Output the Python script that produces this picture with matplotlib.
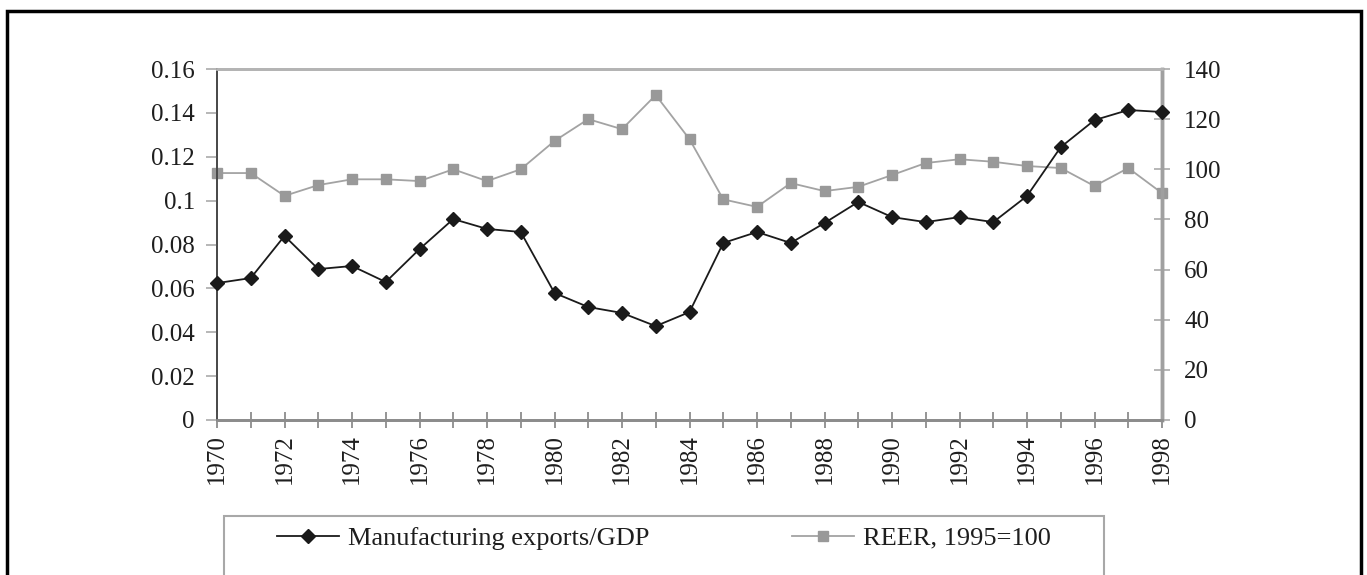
import numpy as np
import matplotlib.pyplot as plt
from matplotlib.patches import Rectangle
from matplotlib.lines import Line2D

plt.rcParams['font.family'] = ['Liberation Serif', 'DejaVu Serif']

years = list(range(1970, 1999))
mfg_exports_gdp = [0.0624, 0.0647, 0.0839, 0.0688, 0.0702, 0.0629, 0.0779, 0.0916,
                   0.0871, 0.0857, 0.0579, 0.0515, 0.0488, 0.0428, 0.0492, 0.0807,
                   0.0857, 0.0807, 0.0898, 0.0994, 0.0925, 0.0902, 0.0925, 0.0902,
                   0.1021, 0.1244, 0.1367, 0.1413, 0.1404]
reer = [98.5, 98.5, 89.4, 93.7, 96.0, 96.0, 95.3, 100.0, 95.3, 100.0, 111.3,
        120.0, 116.0, 129.6, 112.0, 88.0, 85.0, 94.5, 91.3, 93.0, 97.7, 102.5,
        104.0, 103.0, 101.3, 100.5, 93.3, 100.5, 90.5]
left_ticks = [0, 0.02, 0.04, 0.06, 0.08, 0.1, 0.12, 0.14, 0.16]
right_ticks = [0, 20, 40, 60, 80, 100, 120, 140]

W, H = 1367, 575
fig = plt.figure(figsize=(W / 100, H / 100), dpi=100)
ax = fig.add_axes([217 / W, 1 - 420 / H, (1162 - 217) / W, (420 - 69) / H])
ax2 = ax.twinx()

txt = '#1e1e1e'
fs = 18
fs_leg = 19

ax.plot(years, mfg_exports_gdp, color='#1a1a1a', lw=1.3, marker='D', ms=6.8,
        zorder=3, clip_on=False)
ax2.plot(years, reer, color='#a3a3a3', lw=1.3, marker='s', ms=7.2,
         mfc='#999999', mec='#999999', zorder=2, clip_on=False)
ax.set_zorder(ax2.get_zorder() + 1)
ax.patch.set_visible(False)

ax.set_xlim(1970, 1998)
ax.set_ylim(0, 0.16)
ax2.set_ylim(0, 140)

ax.set_xticks(years)
ax.set_xticklabels([str(y) if y % 2 == 0 else '' for y in years],
                   rotation=90, fontsize=fs, color=txt)
ax.set_yticks(left_ticks)
ax.set_yticklabels([f'{v:g}' for v in left_ticks], fontsize=fs, color=txt)
ax2.set_yticks(right_ticks)
ax2.set_yticklabels([str(v) for v in right_ticks], fontsize=fs, color=txt)

ax.tick_params(axis='x', direction='inout', length=11, width=1.3,
               color='#8c8c8c', pad=5)
ax.tick_params(axis='y', direction='out', length=8, width=1.2,
               color='#aaaaaa', pad=8)
ax2.tick_params(axis='y', direction='inout', length=12, width=1.2,
                color='#aaaaaa', pad=10)

for a in (ax, ax2):
    a.spines['top'].set_color('#b4b4b4')
    a.spines['top'].set_linewidth(2.0)
    a.spines['bottom'].set_color('#8c8c8c')
    a.spines['bottom'].set_linewidth(2.0)
    a.spines['left'].set_color('#4a4a4a')
    a.spines['left'].set_linewidth(1.3)
    a.spines['right'].set_color('#a0a0a0')
    a.spines['right'].set_linewidth(2.5)

# legend, framed by a box that runs off the bottom edge
handles = [Line2D([], [], color='#1a1a1a', lw=1.3, marker='D', ms=6.8),
           Line2D([], [], color='#a3a3a3', lw=1.3, marker='s', ms=7.2,
                  mfc='#999999', mec='#999999')]
fig.legend(handles, ['Manufacturing exports/GDP', 'REER, 1995=100'],
           loc='center left', bbox_to_anchor=(277 / W, 1 - 538 / H),
           ncol=2, frameon=False, fontsize=fs_leg, handlelength=2.35,
           handletextpad=0.35, columnspacing=5.4, borderaxespad=0,
           borderpad=0, labelcolor=txt)
fig.add_artist(Rectangle((224 / W, -0.05), (1104 - 224) / W, 0.05 + 1 - 516 / H,
                         transform=fig.transFigure, fill=False,
                         ec='#a8a8a8', lw=1.5))

# outer frame
fig.add_artist(Rectangle((7 / W, -0.05), (1361 - 7) / W, 0.05 + 1 - 11 / H,
                         transform=fig.transFigure, fill=False,
                         ec='black', lw=2.5))

fig.savefig('out.png', dpi=100)
